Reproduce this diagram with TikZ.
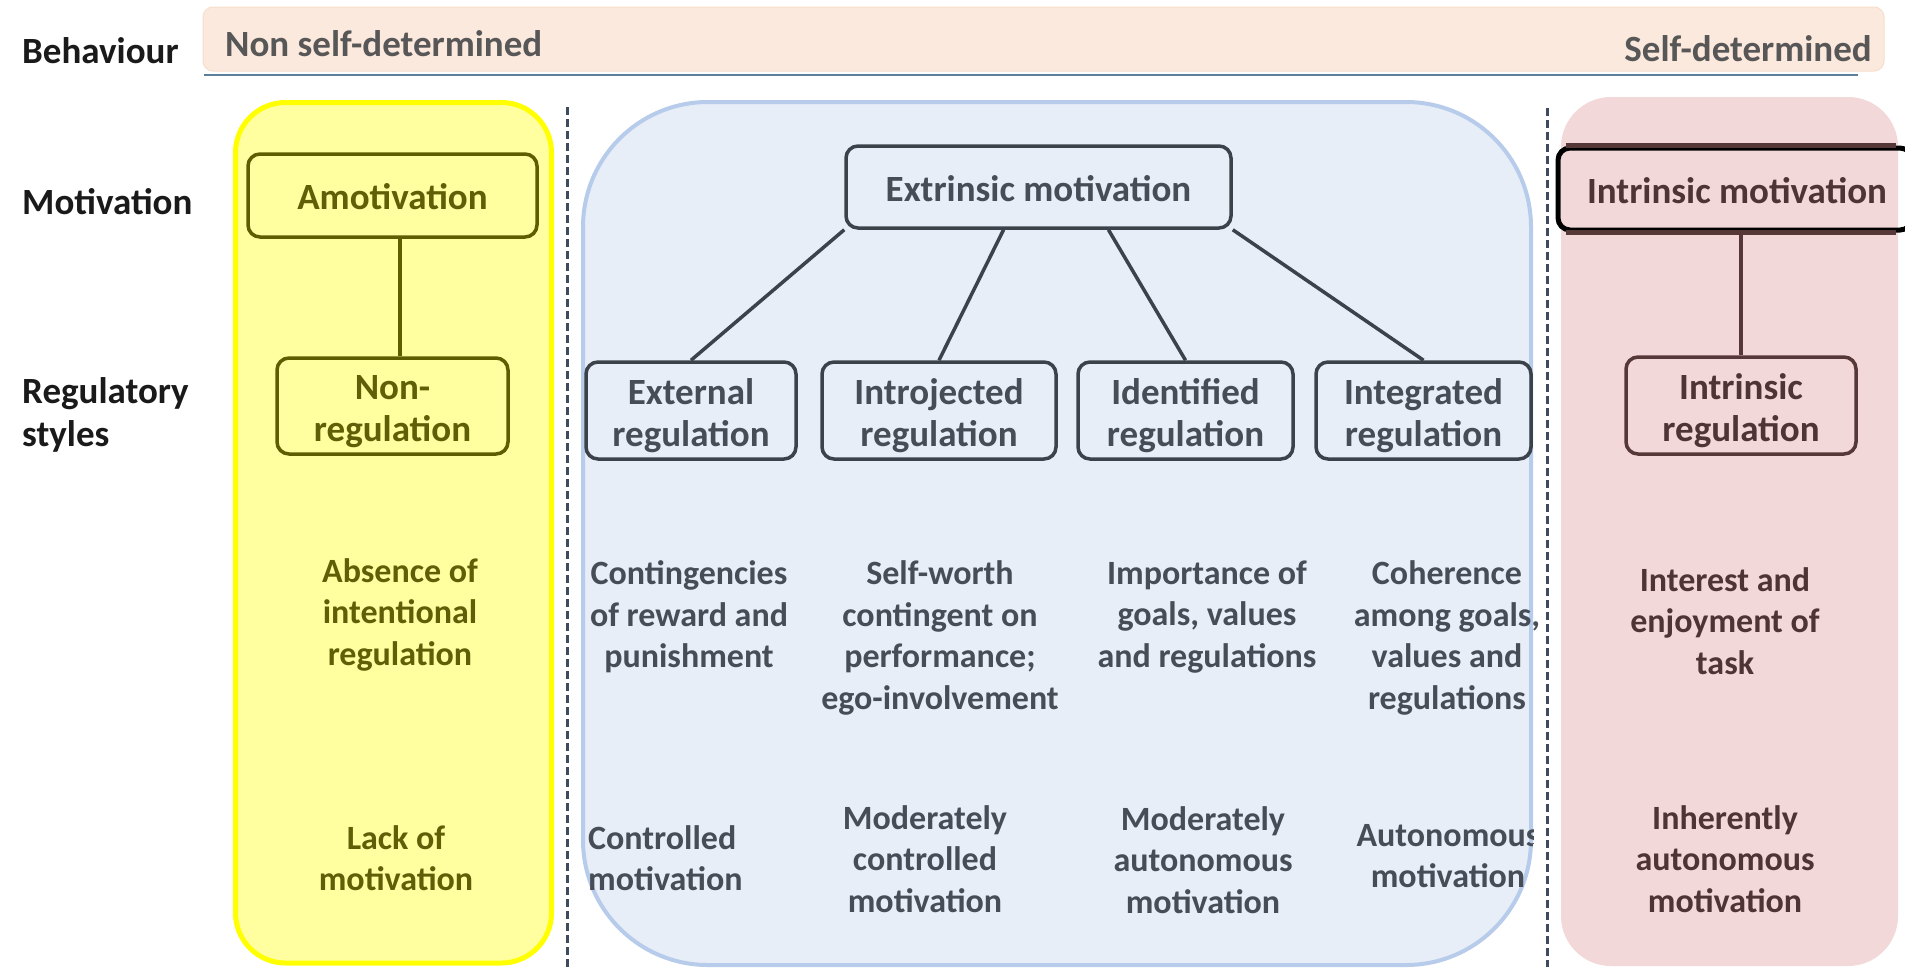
\documentclass[tikz,border=0pt]{standalone}
\usepackage{fontspec}
\setmainfont{Carlito}
\usetikzlibrary{calc}
\definecolor{olivetext}{HTML}{5F5F07}
\definecolor{olivedraw}{HTML}{5E5E00}
\definecolor{slatetext}{HTML}{474D56}
\definecolor{slatedraw}{HTML}{3C424A}
\definecolor{browntext}{HTML}{4E3434}
\definecolor{browndraw}{HTML}{573838}
\definecolor{labelc}{HTML}{1A1A1A}
\definecolor{bannertext}{HTML}{575757}
\definecolor{bannerfill}{HTML}{FCE9DD}
\definecolor{bannerdraw}{HTML}{F8DECD}
\definecolor{ulinec}{HTML}{5E7F9A}
\definecolor{yellowfill}{HTML}{FFFFA0}
\definecolor{yellowdraw}{HTML}{FFFF00}
\definecolor{bluefill}{HTML}{E8EEF8}
\definecolor{bluedraw}{HTML}{B7CBEA}
\definecolor{pinkfill}{HTML}{F2D8D8}
\definecolor{dashc}{HTML}{3E4B5E}
\newcommand{\fLab}{\fontsize{37}{43}\selectfont\bfseries}
\newcommand{\fBan}{\fontsize{37}{43}\selectfont\bfseries}
\newcommand{\fBox}{\fontsize{37}{42}\selectfont\bfseries}
\newcommand{\fDesc}{\fontsize{34}{41.5}\selectfont\bfseries}
\newcommand{\tstrut}{\rule{0pt}{36pt}}
\newcommand{\sstrut}{\rule{0pt}{28.5pt}}
\begin{document}
\begin{tikzpicture}[x=1pt,y=-1pt,
  lab/.style={font=\fLab, text=labelc, inner sep=0pt},
  bann/.style={font=\fBan, text=bannertext, inner sep=0pt},
  rbox/.style={draw, rounded corners=12pt, line width=3.5pt, align=center, inner sep=0pt, font=\fBox},
  olivebox/.style={rbox, draw=olivedraw, text=olivetext},
  slatebox/.style={rbox, draw=slatedraw, text=slatetext},
  brownbox/.style={rbox, draw=browndraw, text=browntext},
  desc/.style={font=\fDesc, align=center, inner sep=0pt},
  conn/.style={line width=3.5pt},
  divider/.style={draw=dashc, line width=3pt, dash pattern=on 8pt off 4pt}
]
\useasboundingbox (0,0) rectangle (1905,967);
\fill[white] (0,0) rectangle (1905,967);

% banner
\draw[fill=bannerfill, draw=bannerdraw, line width=1pt, rounded corners=10pt] (203,7) rectangle (1884,71);
\coordinate (ulA) at (204,75);
\coordinate (ulB) at (1858,75);
\draw[ulinec, line width=2.5pt] (ulA) -- (ulB);

% column backgrounds
\draw[fill=yellowfill, draw=yellowdraw, line width=5pt, rounded corners=50pt] (235.5,102.5) rectangle (551.5,963);
\draw[fill=bluefill, draw=bluedraw, line width=4pt, rounded corners=125pt] (583,102) rectangle (1531,965);
\fill[pinkfill, rounded corners=50pt] (1561,97) rectangle (1898,966);

% dashed dividers
\coordinate (d1a) at (567,107);
\coordinate (d1b) at (567,967);
\coordinate (d2a) at (1547,108);
\coordinate (d2b) at (1547,967);
\draw[divider] (d1a) -- (d1b);
\draw[divider] (d2a) -- (d2b);

% labels
\node[lab, anchor=base west] (behav) at (22,63) {Behaviour};
\node[lab, anchor=base west] (motiv) at (22,214) {Motivation};
\node[lab, anchor=west, align=left] (regst) at (22,415) {Regulatory\\styles};
\node[bann, anchor=base west] (nonsd) at (225,56) {Non self-determined};
\node[bann, anchor=base east] (selfd) at (1872,61) {Self-determined};

% amotivation column
\node[olivebox, minimum width=289pt, minimum height=83pt] (amot) at (392.5,195.5) {\sstrut Amotivation};
\node[olivebox, minimum width=231pt, minimum height=96pt] (nonreg) at (392.5,406) {\tstrut Non-\\regulation};
\draw[conn, olivedraw] ([xshift=7.5pt]amot.south) -- ([xshift=7.5pt]nonreg.north);
\node[desc, text=olivetext] (absence) at (400,614.5) {Absence of\\intentional\\regulation};
\node[desc, text=olivetext] (lack) at (396,858) {Lack of\\motivation};

% extrinsic column
\node[slatebox, minimum width=385pt, minimum height=82pt] (extr) at (1038.5,187) {\sstrut Extrinsic motivation};
\node[slatebox, minimum width=210pt, minimum height=97pt] (ext) at (691,410.5) {\tstrut External\\regulation};
\node[slatebox, minimum width=234pt, minimum height=97pt] (intro) at (939,410.5) {\tstrut Introjected\\regulation};
\node[slatebox, minimum width=215pt, minimum height=97pt] (iden) at (1185.5,410.5) {\tstrut Identified\\regulation};
\node[slatebox, minimum width=215pt, minimum height=97pt] (integ) at (1423.5,410.5) {\tstrut Integrated\\regulation};
\draw[conn, slatedraw] (extr.south west) -- (ext.north);
\draw[conn, slatedraw] ($(extr.south west)!0.41!(extr.south east)$) -- (intro.north);
\draw[conn, slatedraw] ($(extr.south west)!0.68!(extr.south east)$) -- (iden.north);
\draw[conn, slatedraw] (extr.south east) -- (integ.north);

\node[desc, text=slatetext] (extd) at (689,617) {Contingencies\\of reward and\\punishment};
\node[desc, text=slatetext] (introd) at (940,638) {Self-worth\\contingent on\\performance;\\ego-involvement};
\node[desc, text=slatetext] (idend) at (1207,617) {Importance of\\goals, values\\and regulations};
\node[desc, text=slatetext] (integd) at (1447,638) {Coherence\\among goals,\\values and\\regulations};

\node[desc, text=slatetext, anchor=west, align=left] (extm) at (588,858) {Controlled\\motivation};
\node[desc, text=slatetext] (introm) at (925,859) {Moderately\\controlled\\motivation};
\node[desc, text=slatetext] (idenm) at (1203,860) {Moderately\\autonomous\\motivation};
\begin{scope}
\clip[rounded corners=125pt] (581,100) rectangle (1533,967);
\node[desc, text=slatetext] (integm) at (1448,856) {Autonomous\\motivation};
\end{scope}

% intrinsic column
\node[rbox, draw=black, line width=5pt, text=browntext, minimum width=354pt, minimum height=82pt] (intr) at (1735,189) {\sstrut\hspace*{4pt}Intrinsic motivation};
\draw[browndraw, line width=5pt] ([xshift=10pt]intr.north west) -- ([xshift=-19pt]intr.north east);
\draw[browndraw, line width=5pt] ([xshift=10pt]intr.south west) -- ([xshift=-19pt]intr.south east);
\node[brownbox, minimum width=230pt, minimum height=97pt] (intrreg) at (1741,405.5) {\tstrut Intrinsic\\regulation};
\draw[conn, browndraw] ([xshift=6pt]intr.south) -- (intrreg.north);
\node[desc, text=browntext] (intrd) at (1725,621) {Interest and\\enjoyment of\\task};
\node[desc, text=browntext] (intrm) at (1725,859) {Inherently\\autonomous\\motivation};
\end{tikzpicture}
\end{document}
